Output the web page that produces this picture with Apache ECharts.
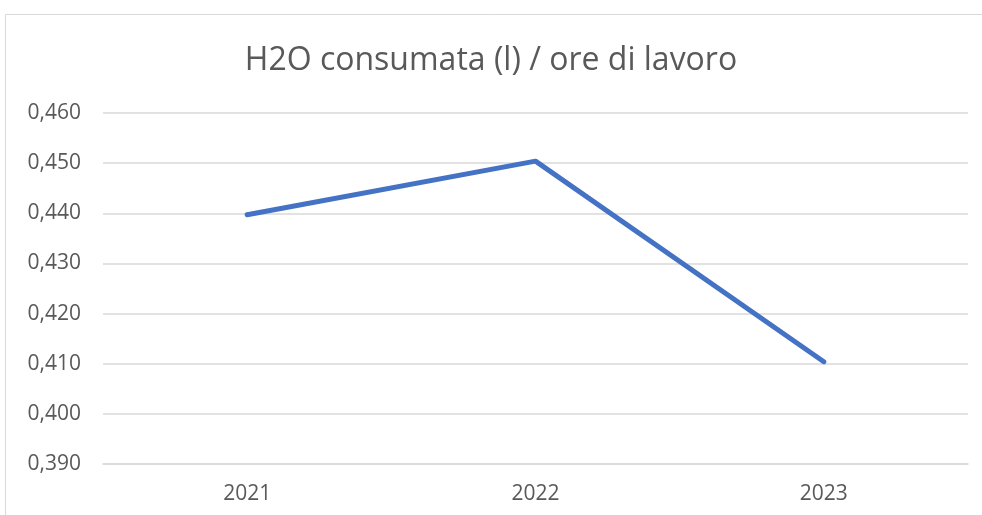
<!DOCTYPE html>
<html lang="it">
<head>
    <meta charset="UTF-8">
    <title>H2O consumata</title>
    <script src="https://cdn.jsdelivr.net/npm/echarts@6/dist/echarts.min.js"></script>
    <style>
        html, body { margin: 0; padding: 0; background: #fff; }
        #chart { width: 982px; height: 515px; }
    </style>
</head>
<body>
    <div id="chart"></div>
<script type="application/javascript">
    // dati
    var anni = ['2021', '2022', '2023'];
    var valori = [0.4397, 0.4504, 0.4104];
    var yMin = 0.39, yMax = 0.46, yStep = 0.01;

    var chart = echarts.init(document.getElementById('chart'));
    var option = {
        animation: false,
        backgroundColor: '#ffffff',
        textStyle: { fontFamily: 'Open Sans' },
        title: {
            text: 'H2O consumata (l) / ore di lavoro',
            left: 'center',
            top: 40,
            textStyle: { fontSize: 32, fontWeight: 'normal', color: '#595959', fontFamily: 'Open Sans' }
        },
        graphic: [{
            type: 'polyline',
            shape: { points: [[5.5, 520], [5.5, 14.5], [990, 14.5]] },
            style: { stroke: '#d9d9d9', lineWidth: 1, fill: null }
        }],
        grid: { left: 103, right: 14, top: 113, bottom: 51 },
        xAxis: {
            type: 'category',
            data: anni,
            axisLine: { show: true, lineStyle: { color: '#d9d9d9', width: 1.5 } },
            axisTick: { show: false },
            axisLabel: { color: '#595959', fontSize: 21, margin: 20 }
        },
        yAxis: {
            type: 'value',
            min: yMin,
            max: yMax,
            interval: yStep,
            axisLine: { show: false },
            axisTick: { show: false },
            axisLabel: {
                color: '#595959',
                fontSize: 21,
                margin: 22,
                formatter: function (v) { return v.toFixed(3).replace('.', ','); }
            },
            splitLine: { lineStyle: { color: '#d9d9d9', width: 1.5 } }
        },
        series: [{
            type: 'line',
            data: valori,
            symbol: 'none',
            lineStyle: { color: '#4472c4', width: 5, cap: 'round', join: 'round' }
        }]
    };
    chart.setOption(option);
</script>
</body>
</html>
